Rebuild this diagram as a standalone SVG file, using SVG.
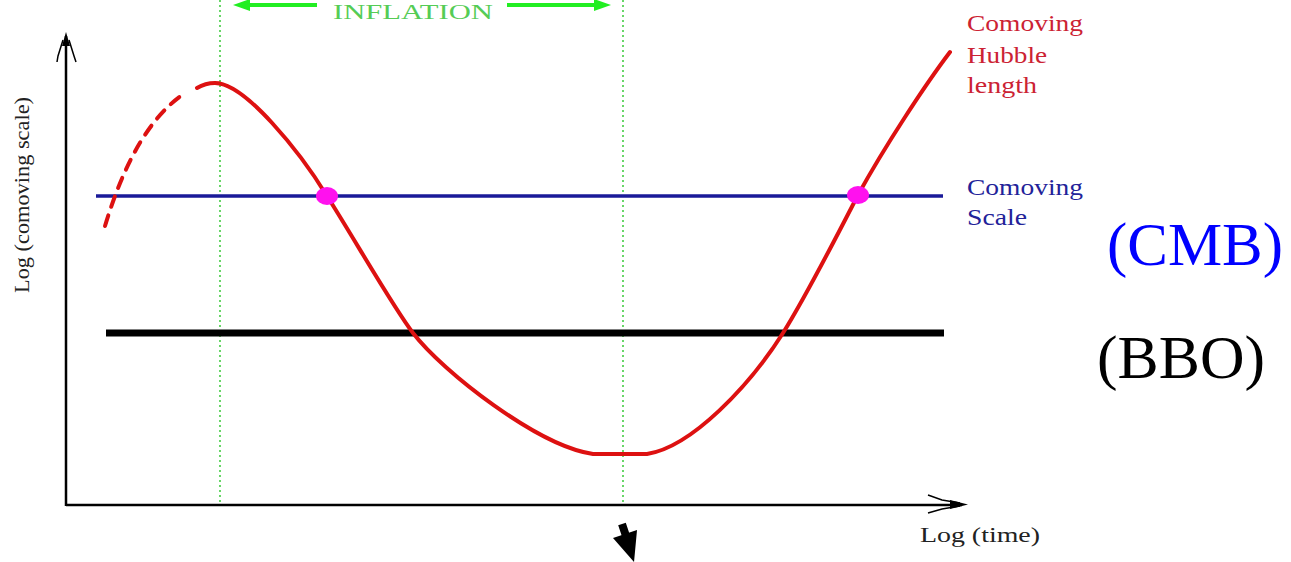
<svg xmlns="http://www.w3.org/2000/svg" width="1291" height="562" viewBox="0 0 1291 562">
  <style>
    .lbl { font-family: "Liberation Serif", "Times New Roman", serif; }
    .guide { stroke: #44cc44; stroke-width: 1.6; stroke-dasharray: 2 3; fill: none; }
    .axis { stroke: #000; stroke-width: 2.5; fill: none; }
    .barb { stroke: #000; stroke-width: 1.5; fill: none; }
    .hub { stroke: #dd1111; stroke-width: 4; fill: none; stroke-linecap: round; stroke-linejoin: round; }
    .dot { fill: #ff11ee; }
  </style>
  <rect width="1291" height="562" fill="#ffffff"/>

  <g id="guides">
    <line class="guide" x1="220" y1="0" x2="220" y2="505"/>
    <line class="guide" x1="623" y1="0" x2="623" y2="505"/>
  </g>

  <g id="inflation">
    <line x1="246" y1="5" x2="317" y2="5" stroke="#22ee22" stroke-width="4"/>
    <polygon points="233,5 250,-1 250,11" fill="#22ee22"/>
    <line x1="507" y1="5" x2="596" y2="5" stroke="#22ee22" stroke-width="4"/>
    <polygon points="611,5 594,-1 594,11" fill="#22ee22"/>
    <text class="lbl" x="333" y="19" font-size="22" fill="#55cc55" textLength="160" lengthAdjust="spacingAndGlyphs">INFLATION</text>
  </g>

  <g id="axes">
    <line class="axis" x1="66" y1="506" x2="66" y2="36"/>
    <polygon points="66,32 62,46 70,46" fill="#000"/>
    <polyline class="barb" points="63,40 58,56 57,62"/>
    <polyline class="barb" points="69,40 74,56 76,62"/>
    <line class="axis" x1="66" y1="505" x2="962" y2="505"/>
    <polygon points="968,504.5 950,500 950,509" fill="#000"/>
    <polyline class="barb" points="928,495 942,500 960,503"/>
    <polyline class="barb" points="928,513 942,509 960,506"/>
    <text class="lbl" x="920" y="542" font-size="22" fill="#222" textLength="120" lengthAdjust="spacingAndGlyphs">Log (time)</text>
    <text class="lbl" font-size="21" fill="#222" transform="translate(29,293) rotate(-90)" textLength="196" lengthAdjust="spacingAndGlyphs">Log (comoving scale)</text>
  </g>

  <g id="scales">
    <line x1="96" y1="196" x2="943" y2="196" stroke="#1a1a99" stroke-width="3.5"/>
    <line x1="106" y1="333" x2="944" y2="333" stroke="#000" stroke-width="7"/>
  </g>

  <g id="hubble-curve">
    <path class="hub" stroke-dasharray="11 9" stroke-linecap="butt" d="M105,226 Q135,126 185,93"/>
    <path class="hub" d="M197,88 C202,85 208,83 215,83 C245,83 300,152 327,196 C352,235 393,307 413,333 C443,372 538,446 593,454 L647,454 C692,447 750,385 783,333 C808,293 845,220 858,195 C885,146 925,85 950,52"/>
  </g>

  <g id="crossings">
    <ellipse class="dot" cx="327" cy="196" rx="11" ry="9"/>
    <ellipse class="dot" cx="858" cy="195" rx="11" ry="9"/>
  </g>

  <g id="label-hubble">
    <text class="lbl" x="967" y="31" font-size="23" fill="#cc2233" textLength="116" lengthAdjust="spacingAndGlyphs">Comoving</text>
    <text class="lbl" x="967" y="63" font-size="23" fill="#cc2233" textLength="80" lengthAdjust="spacingAndGlyphs">Hubble</text>
    <text class="lbl" x="967" y="93" font-size="23" fill="#cc2233" textLength="70" lengthAdjust="spacingAndGlyphs">length</text>
  </g>

  <g id="label-scale">
    <text class="lbl" x="967" y="195" font-size="23" fill="#222299" textLength="116" lengthAdjust="spacingAndGlyphs">Comoving</text>
    <text class="lbl" x="967" y="225" font-size="23" fill="#222299" textLength="60" lengthAdjust="spacingAndGlyphs">Scale</text>
  </g>

  <g id="label-cmb">
    <text class="lbl" x="1107" y="265" font-size="62" fill="#0000ff" textLength="176" lengthAdjust="spacingAndGlyphs">(CMB)</text>
  </g>
  <g id="label-bbo">
    <text class="lbl" x="1097" y="378" font-size="62" fill="#000000" textLength="168" lengthAdjust="spacingAndGlyphs">(BBO)</text>
  </g>

  <g id="pointer">
    <line x1="622" y1="524" x2="628" y2="542" stroke="#000" stroke-width="8"/>
    <polygon points="613,538 637,530 634,562" fill="#000"/>
  </g>
</svg>
